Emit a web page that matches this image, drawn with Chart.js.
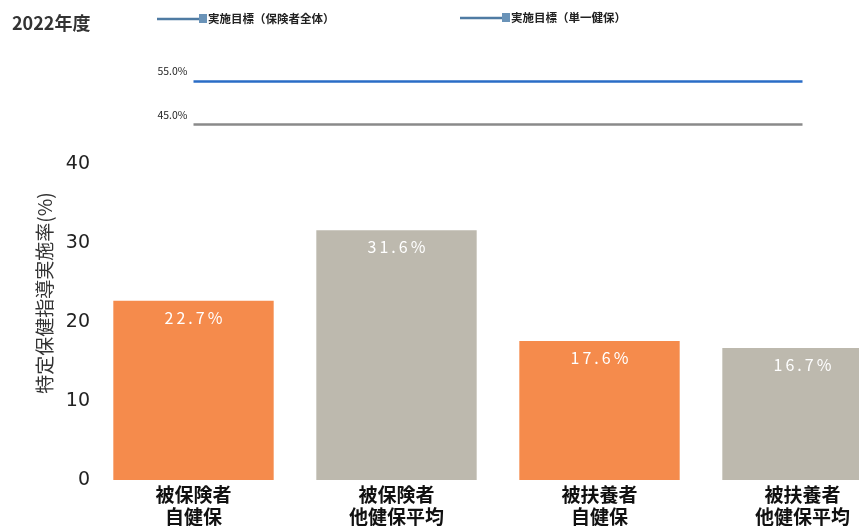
<!DOCTYPE html>
<html lang="ja">
<head>
<meta charset="utf-8">
<script src="https://cdn.jsdelivr.net/npm/chart.js@4.4.1/dist/chart.umd.min.js"></script>
<style>
  html, body { margin: 0; padding: 0; background: #fff; overflow: hidden; }
  #wrap { width: 904px; height: 526px; }
</style>
</head>
<body>
<div id="wrap"><canvas id="chart"></canvas></div>
<script>
const JP = '"Noto Sans CJK JP", "Noto Sans", sans-serif';

const yearLabel = "2022年度";
const yTitle = "特定保健指導実施率(%)";
const categories = [
	["被保険者", "自健保"],
	["被保険者", "他健保平均"],
	["被扶養者", "自健保"],
	["被扶養者", "他健保平均"],
];
const rates = [22.7, 31.6, 17.6, 16.7];
const barColors = ["#f58b4c", "#bdb9ae", "#f58b4c", "#bdb9ae"];
const targetAll = [55, 55, 55, 55];
const targetSingle = [45, 45, 45, 45];
const targetNames = ["実施目標（保険者全体）", "実施目標（単一健保）"];
const yTicks = [0, 10, 20, 30, 40];

// draws value labels, target labels, axis title, year title and legend
const annotate = {
	id: "annotate",
	afterDraw(chart) {
		const ctx = chart.ctx;
		ctx.save();

		// bar values
		const bars = chart.getDatasetMeta(0).data;
		ctx.fillStyle = "#fff";
		ctx.font = `16px ${JP}`;
		ctx.letterSpacing = "3px";
		ctx.textAlign = "center";
		ctx.textBaseline = "middle";
		bars.forEach((bar, i) => {
			ctx.fillText(rates[i].toFixed(1) + "%", bar.x + 1.5, bar.y + 17);
		});
		ctx.letterSpacing = "0px";

		// target line labels
		ctx.fillStyle = "#222";
		ctx.font = `10.5px ${JP}`;
		ctx.textAlign = "right";
		[1, 2].forEach((d) => {
			const p = chart.getDatasetMeta(d).data[0];
			const v = chart.data.datasets[d].data[0];
			ctx.fillText(v.toFixed(1) + "%", p.x - 6, p.y - 10);
		});

		// y axis title
		ctx.save();
		ctx.translate(45, 293);
		ctx.rotate(-Math.PI / 2);
		ctx.textAlign = "center";
		ctx.fillStyle = "#333";
		ctx.font = `19px ${JP}`;
		ctx.fillText(yTitle, 0, 0);
		ctx.restore();

		// year title
		ctx.fillStyle = "#333";
		ctx.font = `bold 18px ${JP}`;
		ctx.textAlign = "left";
		ctx.fillText(yearLabel, 12, 23);

		// legend
		const items = [
			{ x: 157, y: 19 },
			{ x: 460, y: 18 },
		];
		items.forEach((it, i) => {
			ctx.strokeStyle = "#4f7ba3";
			ctx.lineWidth = 2.5;
			ctx.beginPath();
			ctx.moveTo(it.x, it.y);
			ctx.lineTo(it.x + 42, it.y);
			ctx.stroke();
			ctx.fillStyle = "#6a93b8";
			ctx.fillRect(it.x + 42, it.y - 5, 8, 9);
			ctx.fillStyle = "#222";
			ctx.font = `bold 11.5px ${JP}`;
			ctx.fillText(targetNames[i], it.x + 51, it.y);
		});

		ctx.restore();
	},
};

new Chart(document.getElementById("chart"), {
	type: "bar",
	data: {
		labels: categories,
		datasets: [
			{
				label: "実施率",
				data: rates,
				backgroundColor: barColors,
				barPercentage: 0.79,
				categoryPercentage: 1,
				order: 2,
			},
			{
				type: "line",
				label: targetNames[0],
				data: targetAll,
				yAxisID: "y2",
				borderColor: "#2a6cc6",
				borderWidth: 2.5,
				pointRadius: 0,
				order: 1,
			},
			{
				type: "line",
				label: targetNames[1],
				data: targetSingle,
				yAxisID: "y2",
				borderColor: "#8a8a8a",
				borderWidth: 2.5,
				pointRadius: 0,
				order: 1,
			},
		],
	},
	options: {
		responsive: true,
		maintainAspectRatio: false,
		animation: false,
		layout: { padding: { top: 37.6, left: 0, right: 0, bottom: 0 } },
		scales: {
			x: {
				afterFit: (s) => {
					s.height = 46;
				},
				grid: { display: false, drawTicks: false },
				border: { display: false },
				ticks: {
					color: "#111",
					padding: 4,
					maxRotation: 0,
					autoSkip: false,
					font: { family: JP, size: 19, weight: "bold", lineHeight: 1.16 },
				},
			},
			y: {
				min: 0,
				max: 56,
				afterBuildTicks: (s) => {
					s.ticks = yTicks.map((v) => ({ value: v }));
				},
				afterFit: (s) => {
					s.width = 92;
				},
				grid: { display: false, drawTicks: false },
				border: { display: false },
				ticks: {
					color: "#222",
					padding: 2,
					font: { family: '"DejaVu Sans", sans-serif', size: 19 },
				},
			},
			y2: {
				display: false,
				min: -37.6,
				max: 65.2,
			},
		},
		plugins: {
			legend: { display: false },
			tooltip: { enabled: false },
		},
	},
	plugins: [annotate],
});
</script>
</body>
</html>
